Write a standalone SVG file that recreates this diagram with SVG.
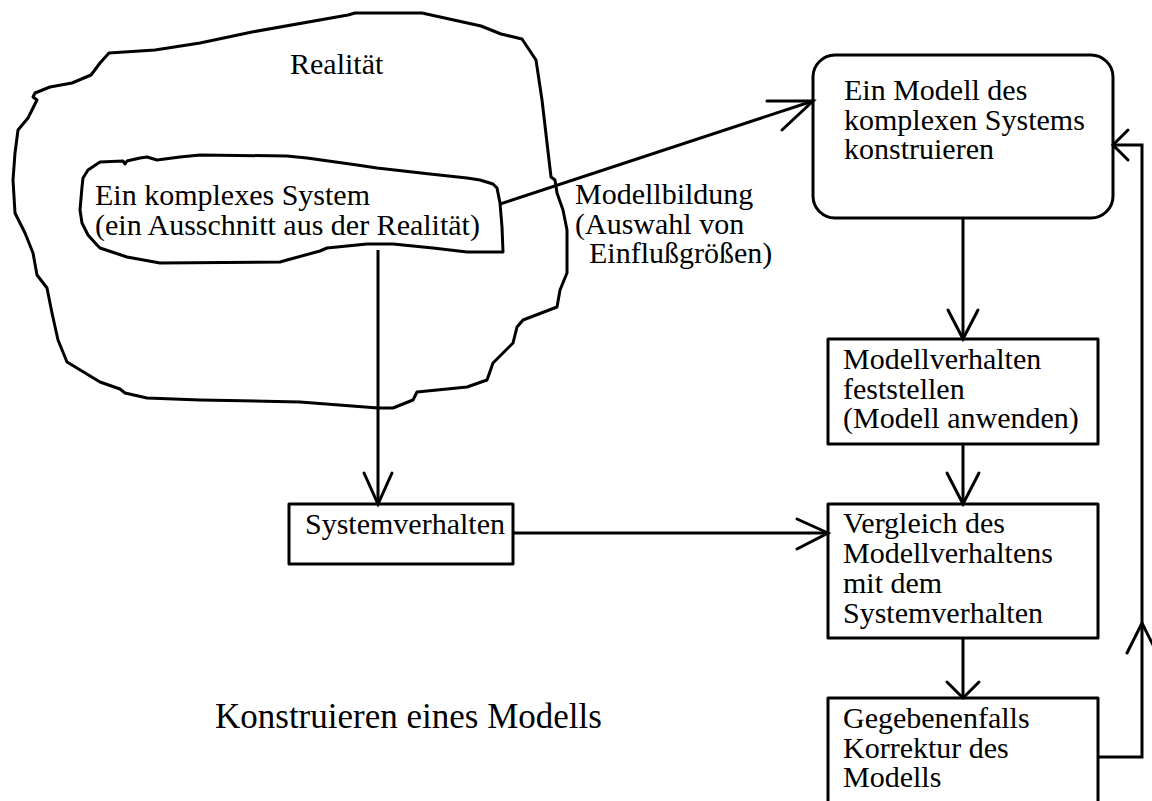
<svg xmlns="http://www.w3.org/2000/svg" width="1152" height="801" viewBox="0 0 1152 801">
  <style>
    .bg { fill: #ffffff; }
    .shape { fill: #ffffff; stroke: #000000; stroke-width: 3; stroke-linejoin: round; }
    .line { fill: none; stroke: #000000; stroke-width: 3; stroke-linecap: butt; stroke-linejoin: miter; }
    .head { fill: none; stroke: #000000; stroke-width: 3; stroke-linecap: round; stroke-linejoin: miter; }
    text { font-family: "Liberation Serif", "Times New Roman", serif; font-size: 30px; fill: #000000; }
    .title { font-size: 35px; }
  </style>
  <rect class="bg" x="0" y="0" width="1152" height="801"/>

  <!-- freehand outline: reality -->
  <g id="realitaet">
    <path class="shape" d="M355,13 L422,13 L481,26 L501,34 L522,39 L536,60 L542,100 L551,177 L555,180 L557,193 L563,210 L567,230 L567,273 L560,290 L557,307 L523,320 L517,327 L513,343 L493,363 L487,380 L467,387 L417,392 L413,400 L393,408 L378,408 L300,402 L200,400 L147,398 L125,393 L120,389 L100,382 L67,362 L58,340 L52,313 L47,288 L37,275 L33,253 L25,233 L15,213 L13,180 L15,153 L18,130 L28,118 L37,100 L33,97 L35,93 L50,87 L72,83 L91,75 L100,63 L109,53 L155,50 L200,43 L252,32 L348,15 Z"/>
    <text x="290" y="74">Realität</text>
  </g>

  <!-- freehand outline: complex system -->
  <g id="komplexes-system">
    <path class="shape" d="M88,170 L100,162 L123,161 L125,164 L127,161 L140,158 L147,157 L157,160 L180,157 L200,155 L287,156 L307,158 L357,165 L377,168 L430,174 L467,178 L480,180 L493,184 L497,188 L500,203 L502,227 L503,252 L467,252 L433,248 L393,244 L367,244 L327,248 L320,251 L287,260 L280,262 L160,263 L127,257 L100,248 L97,245 L88,235 L82,223 L80,210 L82,187 L83,178 Z"/>
    <text x="95" y="205">Ein komplexes System</text>
    <text x="95" y="235">(ein Ausschnitt aus der Realität)</text>
  </g>

  <g id="modell-konstruieren">
    <rect class="shape" x="813" y="55" width="300" height="163" rx="22" ry="22"/>
    <text x="844" y="100">Ein Modell des</text>
    <text x="844" y="130">komplexen Systems</text>
    <text x="844" y="159">konstruieren</text>
  </g>

  <g id="modellverhalten">
    <rect class="shape" x="828" y="339" width="270" height="105"/>
    <text x="843" y="369">Modellverhalten</text>
    <text x="843" y="399">feststellen</text>
    <text x="843" y="428">(Modell anwenden)</text>
  </g>

  <g id="systemverhalten">
    <rect class="shape" x="289" y="504" width="224" height="60"/>
    <text x="305" y="534">Systemverhalten</text>
  </g>

  <g id="vergleich">
    <rect class="shape" x="828" y="504" width="270" height="134"/>
    <text x="843" y="533">Vergleich des</text>
    <text x="843" y="563">Modellverhaltens</text>
    <text x="843" y="593">mit dem</text>
    <text x="843" y="623">Systemverhalten</text>
  </g>

  <g id="korrektur">
    <rect class="shape" x="828" y="698" width="270" height="130"/>
    <text x="843" y="728">Gegebenenfalls</text>
    <text x="843" y="758">Korrektur des</text>
    <text x="843" y="787">Modells</text>
  </g>

  <g id="modellbildung-label">
    <text x="575" y="204">Modellbildung</text>
    <text x="575" y="234">(Auswahl von</text>
    <text x="589" y="263">Einflußgrößen)</text>
  </g>

  <g id="titel">
    <text class="title" x="215" y="728">Konstruieren eines Modells</text>
  </g>

  <g id="connectors">
    <!-- system -> model (Modellbildung) -->
    <line class="line" x1="500" y1="204" x2="813" y2="101"/>
    <polyline class="head" points="767,101 813,101 782,130"/>
    <!-- system -> Systemverhalten -->
    <line class="line" x1="378" y1="250" x2="378" y2="504"/>
    <polyline class="head" points="364,473 378,504 392,473"/>
    <!-- Systemverhalten -> Vergleich -->
    <line class="line" x1="513" y1="533" x2="828" y2="533"/>
    <polyline class="head" points="797,519 828,533 797,549"/>
    <!-- model -> Modellverhalten -->
    <line class="line" x1="963" y1="218" x2="963" y2="339"/>
    <polyline class="head" points="948,310 963,339 978,310"/>
    <!-- Modellverhalten -> Vergleich -->
    <line class="line" x1="963" y1="444" x2="963" y2="504"/>
    <polyline class="head" points="947,473 963,504 979,473"/>
    <!-- Vergleich -> Korrektur -->
    <line class="line" x1="963" y1="638" x2="963" y2="698"/>
    <polyline class="head" points="947,682 963,698 979,682"/>
    <!-- Korrektur -> back to model -->
    <polyline class="line" points="1098,757 1142,757 1142,145 1113,145"/>
    <polyline class="head" points="1128,130 1113,145 1128,160"/>
    <polyline class="head" points="1127,653 1142,623 1157,653"/>
  </g>
</svg>
